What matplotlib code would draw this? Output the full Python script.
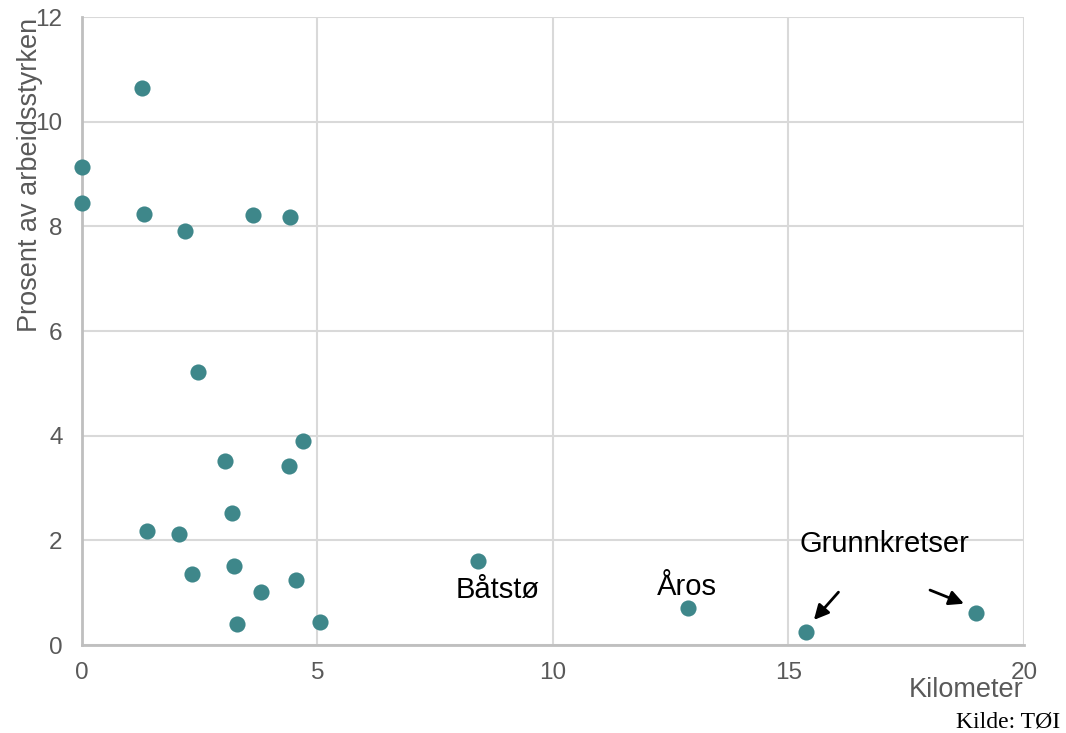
import matplotlib.pyplot as plt

km = [1.27, 0.0, 0.0, 1.32, 2.19, 3.63, 4.42, 2.46, 4.69, 3.04, 4.39, 3.18,
      1.38, 2.06, 3.23, 2.34, 3.80, 4.54, 3.29, 5.05, 8.41, 12.87, 15.37, 18.98]
prosent = [10.64, 9.13, 8.45, 8.24, 7.91, 8.22, 8.18, 5.22, 3.90, 3.52, 3.42, 2.52,
           2.18, 2.12, 1.51, 1.36, 1.01, 1.24, 0.40, 0.44, 1.61, 0.71, 0.25, 0.61]

plt.rcParams['font.family'] = ['Liberation Sans', 'DejaVu Sans']

fig = plt.figure(figsize=(10.66, 7.33), dpi=100)
ax = fig.add_axes([0.0769, 0.12, 0.8837, 0.8568])

ax.scatter(km, prosent, s=135, color="#3E878A", zorder=3, clip_on=False, linewidths=0)

ax.set_xlim(0, 20)
ax.set_ylim(0, 12)
ax.set_xticks([0, 5, 10, 15, 20])
ax.set_yticks([0, 2, 4, 6, 8, 10, 12])
ax.grid(True, color="#d9d9d9", linewidth=1.5)
ax.set_axisbelow(True)
for s in ["top", "right"]:
    ax.spines[s].set_visible(False)
for s in ["left", "bottom"]:
    ax.spines[s].set_color("#bfbfbf")
    ax.spines[s].set_linewidth(2)
ax.tick_params(length=0, labelsize=17.5, labelcolor="#595959")
ax.tick_params(axis="x", pad=12)
ax.tick_params(axis="y", pad=14)

fig.text(0.028, 0.975, "Prosent av arbeidsstyrken", rotation=90, ha="center", va="top",
         fontsize=19.5, color="#595959")
fig.text(0.96, 0.058, "Kilometer", ha="right", va="center", fontsize=19.5, color="#595959")
fig.text(0.995, 0.015, "Kilde: TØI", ha="right", va="center", fontsize=17,
         family=["Liberation Serif", "DejaVu Serif"], color="black")

ax.text(8.83, 1.05, "Båtstø", ha="center", va="center", fontsize=21)
ax.text(12.85, 1.11, "Åros", ha="center", va="center", fontsize=21)
ax.text(17.03, 1.93, "Grunnkretser", ha="center", va="center", fontsize=21)
arrow = dict(arrowstyle="-|>", color="black", lw=2, mutation_scale=22)
ax.annotate("", xy=(15.5, 0.44), xytext=(16.1, 1.05), arrowprops=arrow)
ax.annotate("", xy=(18.78, 0.77), xytext=(17.95, 1.07), arrowprops=arrow)

fig.savefig("out.png", dpi=100)
